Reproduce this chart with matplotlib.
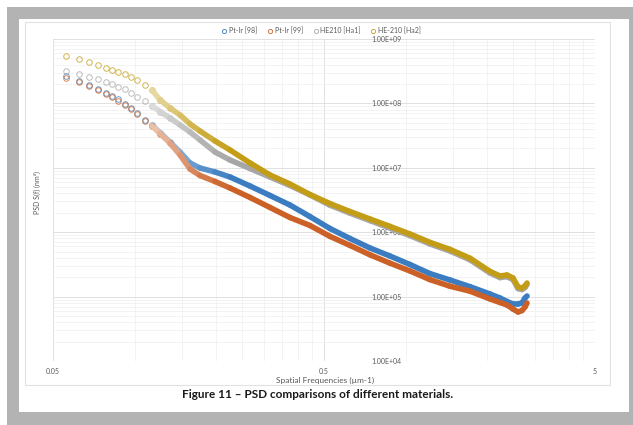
import numpy as np
import matplotlib
matplotlib.use('Agg')
from matplotlib import pyplot as plt
from matplotlib.lines import Line2D
from matplotlib.patches import Rectangle
from matplotlib.collections import LineCollection
from matplotlib.colors import to_rgb
from matplotlib.ticker import FixedLocator, LogLocator, NullFormatter, FuncFormatter

# spatial frequency (um-1)
freq = [0.0558, 0.0624, 0.0679, 0.0733, 0.0784, 0.0825, 0.0869, 0.0922, 0.0970, 0.1021,
        0.1093, 0.1160, 0.1241, 0.1351, 0.1471, 0.1602, 0.1743, 0.1981, 0.2250, 0.2667,
        0.3160, 0.3744, 0.4439, 0.5261, 0.6234, 0.7388, 0.8759, 1.038, 1.230, 1.458,
        1.729, 2.049, 2.231, 2.367, 2.491, 2.600, 2.689, 2.758, 2.806]

# log10 of PSD S(f) (nm^4) for each series
pt_ir_98 = [8.418, 8.348, 8.286, 8.224, 8.169, 8.115, 8.061, 7.991, 7.929, 7.851,
            7.750, 7.665, 7.548, 7.401, 7.245, 7.075, 6.997, 6.935, 6.857, 6.717,
            6.570, 6.422, 6.242, 6.057, 5.902, 5.755, 5.630, 5.498, 5.357, 5.258,
            5.154, 5.040, 4.978, 4.924, 4.885, 4.885, 4.901, 4.978, 5.009]
pt_ir_99 = [8.402, 8.332, 8.270, 8.208, 8.153, 8.099, 8.045, 7.975, 7.913, 7.835,
            7.734, 7.649, 7.532, 7.385, 7.199, 6.981, 6.880, 6.787, 6.686, 6.539,
            6.384, 6.228, 6.104, 5.935, 5.795, 5.649, 5.519, 5.398, 5.264, 5.161,
            5.084, 4.963, 4.908, 4.870, 4.807, 4.761, 4.784, 4.839, 4.901]
he210_ha1 = [8.503, 8.464, 8.410, 8.379, 8.340, 8.301, 8.262, 8.216, 8.161, 8.107,
             8.037, 7.960, 7.874, 7.773, 7.665, 7.556, 7.432, 7.245, 7.121, 6.989,
             6.857, 6.725, 6.578, 6.419, 6.296, 6.180, 6.065, 5.947, 5.817, 5.708,
             5.571, 5.366, 5.295, 5.310, 5.264, 5.124, 5.109, 5.140, 5.186]
he210_ha2 = [8.736, 8.689, 8.643, 8.596, 8.557, 8.519, 8.488, 8.449, 8.410, 8.363,
             8.286, 8.208, 8.053, 7.929, 7.820, 7.680, 7.571, 7.416, 7.276, 7.075,
             6.888, 6.748, 6.585, 6.444, 6.321, 6.205, 6.090, 5.972, 5.842, 5.733,
             5.596, 5.391, 5.320, 5.335, 5.289, 5.149, 5.134, 5.165, 5.211]

names = ['Pt-Ir [98]', 'Pt-Ir [99]', 'HE210 [Ha1]', 'HE-210 [Ha2]']
colors = ['#3b7dc0', '#cc6128', '#a6a6a6', '#c49d16']

plt.rcParams['font.family'] = ['Lato', 'DejaVu Sans']

W, H = 633, 425
fig = plt.figure(figsize=(W / 100, H / 100), dpi=100)

# page frame of the screenshot
fig.patches.append(Rectangle((7 / W, 0), 626 / W, 418 / H, transform=fig.transFigure,
                             facecolor='#b3b3b3', edgecolor='none', zorder=-3))
fig.patches.append(Rectangle((19 / W, 13 / H), 610 / W, 393 / H, transform=fig.transFigure,
                             facecolor='white', edgecolor='none', zorder=-2))
fig.patches.append(Rectangle((25 / W, 40 / H), 585 / W, 363 / H, transform=fig.transFigure,
                             facecolor='white', edgecolor='#e2e2e2', lw=0.8, zorder=-1))

ax = fig.add_axes([53 / W, 64 / H, 542 / W, 322 / H])
ax.set_facecolor('none')
ax.set_xscale('log')
ax.set_yscale('log')
ax.set_xlim(0.05, 5)
ax.set_ylim(1e4, 1e9)

ax.xaxis.set_major_locator(FixedLocator([0.05, 0.5, 5]))
minors = [k * 0.05 for k in range(2, 10)] + [k * 0.5 for k in range(2, 10)]
ax.xaxis.set_minor_locator(FixedLocator(minors))
ax.xaxis.set_major_formatter(FuncFormatter(lambda v, p: '%g' % v))
ax.xaxis.set_minor_formatter(NullFormatter())
ax.yaxis.set_major_locator(LogLocator(base=10, numticks=10))
ax.yaxis.set_minor_locator(LogLocator(base=10, subs=np.arange(2, 10), numticks=20))
ax.yaxis.set_major_formatter(FuncFormatter(lambda v, p: '%.2E' % v))
ax.yaxis.set_minor_formatter(NullFormatter())

ax.grid(which='major', color='#dcdcdc', lw=0.6)
ax.grid(which='minor', color='#efefef', lw=0.5)
ax.set_axisbelow(True)
for s in ax.spines.values():
    s.set_color('none')
ax.spines['left'].set_position(('data', 1.0))
ax.tick_params(which='both', length=0, labelsize=5, labelcolor='#595959')
ax.tick_params(axis='x', pad=5)
ax.tick_params(axis='y', pad=3)

series = [pt_ir_98, pt_ir_99, he210_ha1, he210_ha2]
start = 11
for vals, c in zip(series, colors):
    y = 10 ** np.array(vals)
    # sparse low-frequency points: open rings
    ax.plot(freq[:14], y[:14], 'o', ms=4, mfc='none', mec=c, mew=0.7, alpha=0.75)
    # overlapping rings further right -> band that gets solid, lighter at first
    pts = np.column_stack([freq[start:], y[start:]])
    segs = np.stack([pts[:-1], pts[1:]], axis=1)
    base = np.array(to_rgb(c))
    seg_cols = []
    for i in range(len(segs)):
        w = min(1.0, 0.4 + 0.09 * i)
        seg_cols.append(w * base + (1 - w) * np.ones(3))
    lc = LineCollection(segs, colors=seg_cols, linewidths=4, capstyle='round',
                        joinstyle='round')
    ax.add_collection(lc)

handles = [Line2D([], [], ls='none', marker='o', ms=3, mfc='none', mec=c, mew=0.6)
           for c in colors]
fig.legend(handles, names, loc='center', bbox_to_anchor=(321 / W, 1 - 31 / H), ncol=4,
           frameon=False, fontsize=5, handletextpad=0.2, columnspacing=1.3,
           handlelength=1, labelcolor='#595959')

fig.text(37 / W, 1 - 193 / H, 'PSD S(f) (nm⁴)', rotation=90, ha='center', va='center',
         fontsize=5, color='#595959')
fig.text(325 / W, 1 - 380 / H, 'Spatial Frequencies (µm-1)', ha='center', va='center',
         fontsize=6, color='#595959')
fig.text(318 / W, 1 - 394 / H, 'Figure 11 – PSD comparisons of different materials.',
         ha='center', va='center', fontsize=8.5, fontweight='bold', color='#1a1a1a')

fig.savefig('out.png', dpi=100)
